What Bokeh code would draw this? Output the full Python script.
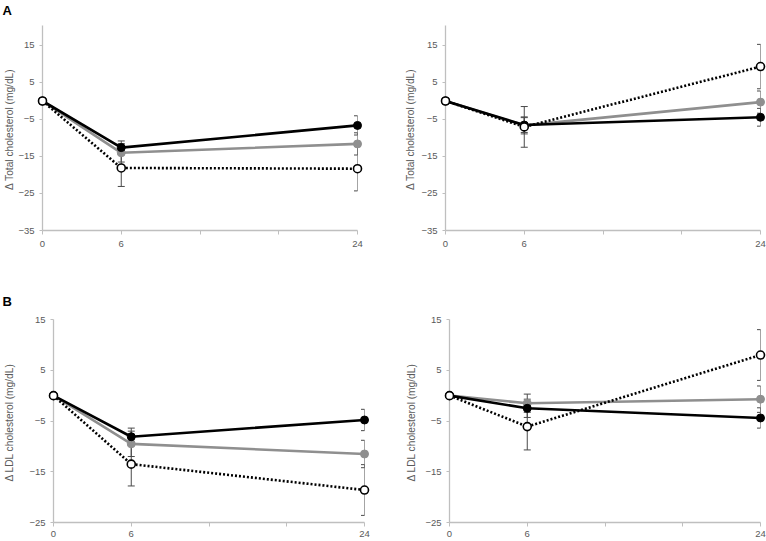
from bokeh.plotting import figure
from bokeh.models import ColumnDataSource, Whisker, TeeHead, FixedTicker, Range1d
from bokeh.core.properties import value
from bokeh.layouts import column, row
from bokeh.embed import file_html
from bokeh.resources import INLINE

# ---------------- data ----------------
tick_labels = ["0", "6", "", "", "24"]
time_points = ["0", "6", "24"]

# Panel A (total cholesterol), left and right
a_left_black = [0.0, -12.6, -6.6]
a_left_black_err = [0.0, 1.8, 2.6]
a_left_gray = [0.0, -14.0, -11.6]
a_left_gray_err = [0.0, 2.5, 3.0]
a_left_open = [0.0, -18.1, -18.3]
a_left_open_err = [0.0, 5.0, 6.0]

a_right_black = [0.0, -6.5, -4.4]
a_right_black_err = [0.0, 2.0, 2.4]
a_right_gray = [0.0, -6.6, -0.3]
a_right_gray_err = [0.0, 2.3, 3.0]
a_right_open = [0.0, -7.0, 9.3]
a_right_open_err = [0.0, 5.5, 6.0]

# Panel B (LDL cholesterol), left and right
b_left_black = [0.0, -8.1, -4.8]
b_left_black_err = [0.0, 1.7, 2.1]
b_left_gray = [0.0, -9.5, -11.5]
b_left_gray_err = [0.0, 2.5, 2.7]
b_left_open = [0.0, -13.5, -18.6]
b_left_open_err = [0.0, 4.3, 5.0]

b_right_black = [0.0, -2.5, -4.4]
b_right_black_err = [0.0, 1.8, 2.0]
b_right_gray = [0.0, -1.5, -0.7]
b_right_gray_err = [0.0, 1.8, 2.6]
b_right_open = [0.0, -6.1, 8.0]
b_right_open_err = [0.0, 4.6, 5.0]

a_ticks = [-35, -25, -15, -5, 5, 15]
b_ticks = [-25, -15, -5, 5, 15]
a_label = "\u0394 Total cholesterol  (mg/dL)"
b_label = "\u0394 LDL cholesterol  (mg/dL)"
panel_letters = ["A", "B"]

# ---------------- styling ----------------
FONT = "Liberation Sans"
AXIS_COLOR = "#bfbfbf"
TEXT_COLOR = "#5a5a5a"
GRAY = "#8f8f8f"
ERR_COLOR = "#4a4a4a"

x_pos = [tick_labels.index(t) for t in time_points]


def make_panel(black, black_err, gray, gray_err, opn, opn_err, y_ticks, y_end, y_label,
               width, height, b_left, b_right, b_top, b_bottom, label_standoff,
               x_standoff, letter=None):
    x_end = len(tick_labels) - 1
    p = figure(width=width, height=height, output_backend="svg", toolbar_location=None,
               x_range=Range1d(0, x_end), y_range=Range1d(y_ticks[0], y_end),
               min_border_left=b_left, min_border_right=b_right,
               min_border_top=b_top, min_border_bottom=b_bottom)
    p.outline_line_color = None
    p.xgrid.visible = False
    p.ygrid.visible = False
    p.background_fill_color = "white"
    p.border_fill_color = "white"

    p.xaxis.ticker = FixedTicker(ticks=list(range(len(tick_labels))))
    p.xaxis.major_label_overrides = {i: t for i, t in enumerate(tick_labels)}
    p.xaxis.major_tick_out = 4
    p.xaxis.major_tick_in = 0
    p.xaxis.minor_tick_out = 0
    p.xaxis.major_label_standoff = x_standoff

    p.yaxis.ticker = FixedTicker(ticks=y_ticks)
    p.yaxis.major_tick_out = 3
    p.yaxis.major_tick_in = 0
    p.yaxis.minor_tick_out = 0
    p.yaxis.major_label_standoff = 5
    p.yaxis.axis_label = y_label
    p.yaxis.axis_label_standoff = label_standoff
    p.yaxis.axis_label_text_font = FONT
    p.yaxis.axis_label_text_font_size = "10.2px"
    p.yaxis.axis_label_text_font_style = "normal"
    p.yaxis.axis_label_text_color = TEXT_COLOR

    for ax in (p.xaxis, p.yaxis):
        ax.axis_line_color = AXIS_COLOR
        ax.axis_line_width = 1.3
        ax.major_tick_line_color = AXIS_COLOR
        ax.major_label_text_font = FONT
        ax.major_label_text_font_size = "9.5px"
        ax.major_label_text_color = TEXT_COLOR

    series = [
        (gray, gray_err, dict(line_color=GRAY, line_width=2.6),
         dict(fill_color=GRAY, line_color=GRAY, line_width=1)),
        (black, black_err, dict(line_color="black", line_width=2.6),
         dict(fill_color="black", line_color="black", line_width=1)),
        (opn, opn_err, dict(line_color="black", line_width=2.6, line_dash="2 2"),
         dict(fill_color="white", line_color="black", line_width=1.6)),
    ]
    for vals, errs, lkw, mkw in series:
        src = ColumnDataSource(dict(x=x_pos, y=vals))
        keep = [i for i, e in enumerate(errs) if e > 0]
        esrc = ColumnDataSource(dict(
            x=[x_pos[i] for i in keep],
            upper=[vals[i] + errs[i] for i in keep],
            lower=[vals[i] - errs[i] for i in keep]))
        w = Whisker(base="x", upper="upper", lower="lower", source=esrc, dimension="height",
                    line_color=ERR_COLOR, line_width=1,
                    upper_head=TeeHead(size=7, line_color=ERR_COLOR, line_width=1),
                    lower_head=TeeHead(size=7, line_color=ERR_COLOR, line_width=1))
        p.add_layout(w)
        p.line("x", "y", source=src, **lkw)
    for vals, errs, lkw, mkw in series:
        src = ColumnDataSource(dict(x=x_pos, y=vals))
        p.scatter("x", "y", source=src, size=8, level="overlay", **mkw)

    if letter is not None:
        # panel letter at a pixel spot of the canvas, converted to data units
        txt, px_x, px_y = letter
        frame_w = width - b_left - b_right
        frame_h = height - b_top - b_bottom
        lx = (px_x - b_left) / frame_w * x_end
        ly = y_end + (b_top - px_y) / frame_h * (y_end - y_ticks[0])
        p.text(x=[lx], y=[ly], text=[txt], level="overlay",
               text_font=value(FONT), text_font_style="bold", text_font_size="13px",
               text_color="black", text_baseline="top", text_align="left")
    return p


p1 = make_panel(a_left_black, a_left_black_err, a_left_gray, a_left_gray_err,
                a_left_open, a_left_open_err, a_ticks, 20.4, a_label,
                383, 270, 42, 26, 25, 40, 0, 6, letter=(panel_letters[0], 2, 2.5))
p2 = make_panel(a_right_black, a_right_black_err, a_right_gray, a_right_gray_err,
                a_right_open, a_right_open_err, a_ticks, 20.4, a_label,
                383, 270, 62, 6, 25, 40, 2, 6)
p3 = make_panel(b_left_black, b_left_black_err, b_left_gray, b_left_gray_err,
                b_left_open, b_left_open_err, b_ticks, 15, b_label,
                383, 271, 53, 19, 48, 19, 11, 4, letter=(panel_letters[1], 2, 22.5))
p4 = make_panel(b_right_black, b_right_black_err, b_right_gray, b_right_gray_err,
                b_right_open, b_right_open_err, b_ticks, 15, b_label,
                383, 271, 66, 6, 49, 19, 5, 4)

layout = column(row(p1, p2), row(p3, p4))
open("out.html", "w").write(file_html(layout, INLINE))
